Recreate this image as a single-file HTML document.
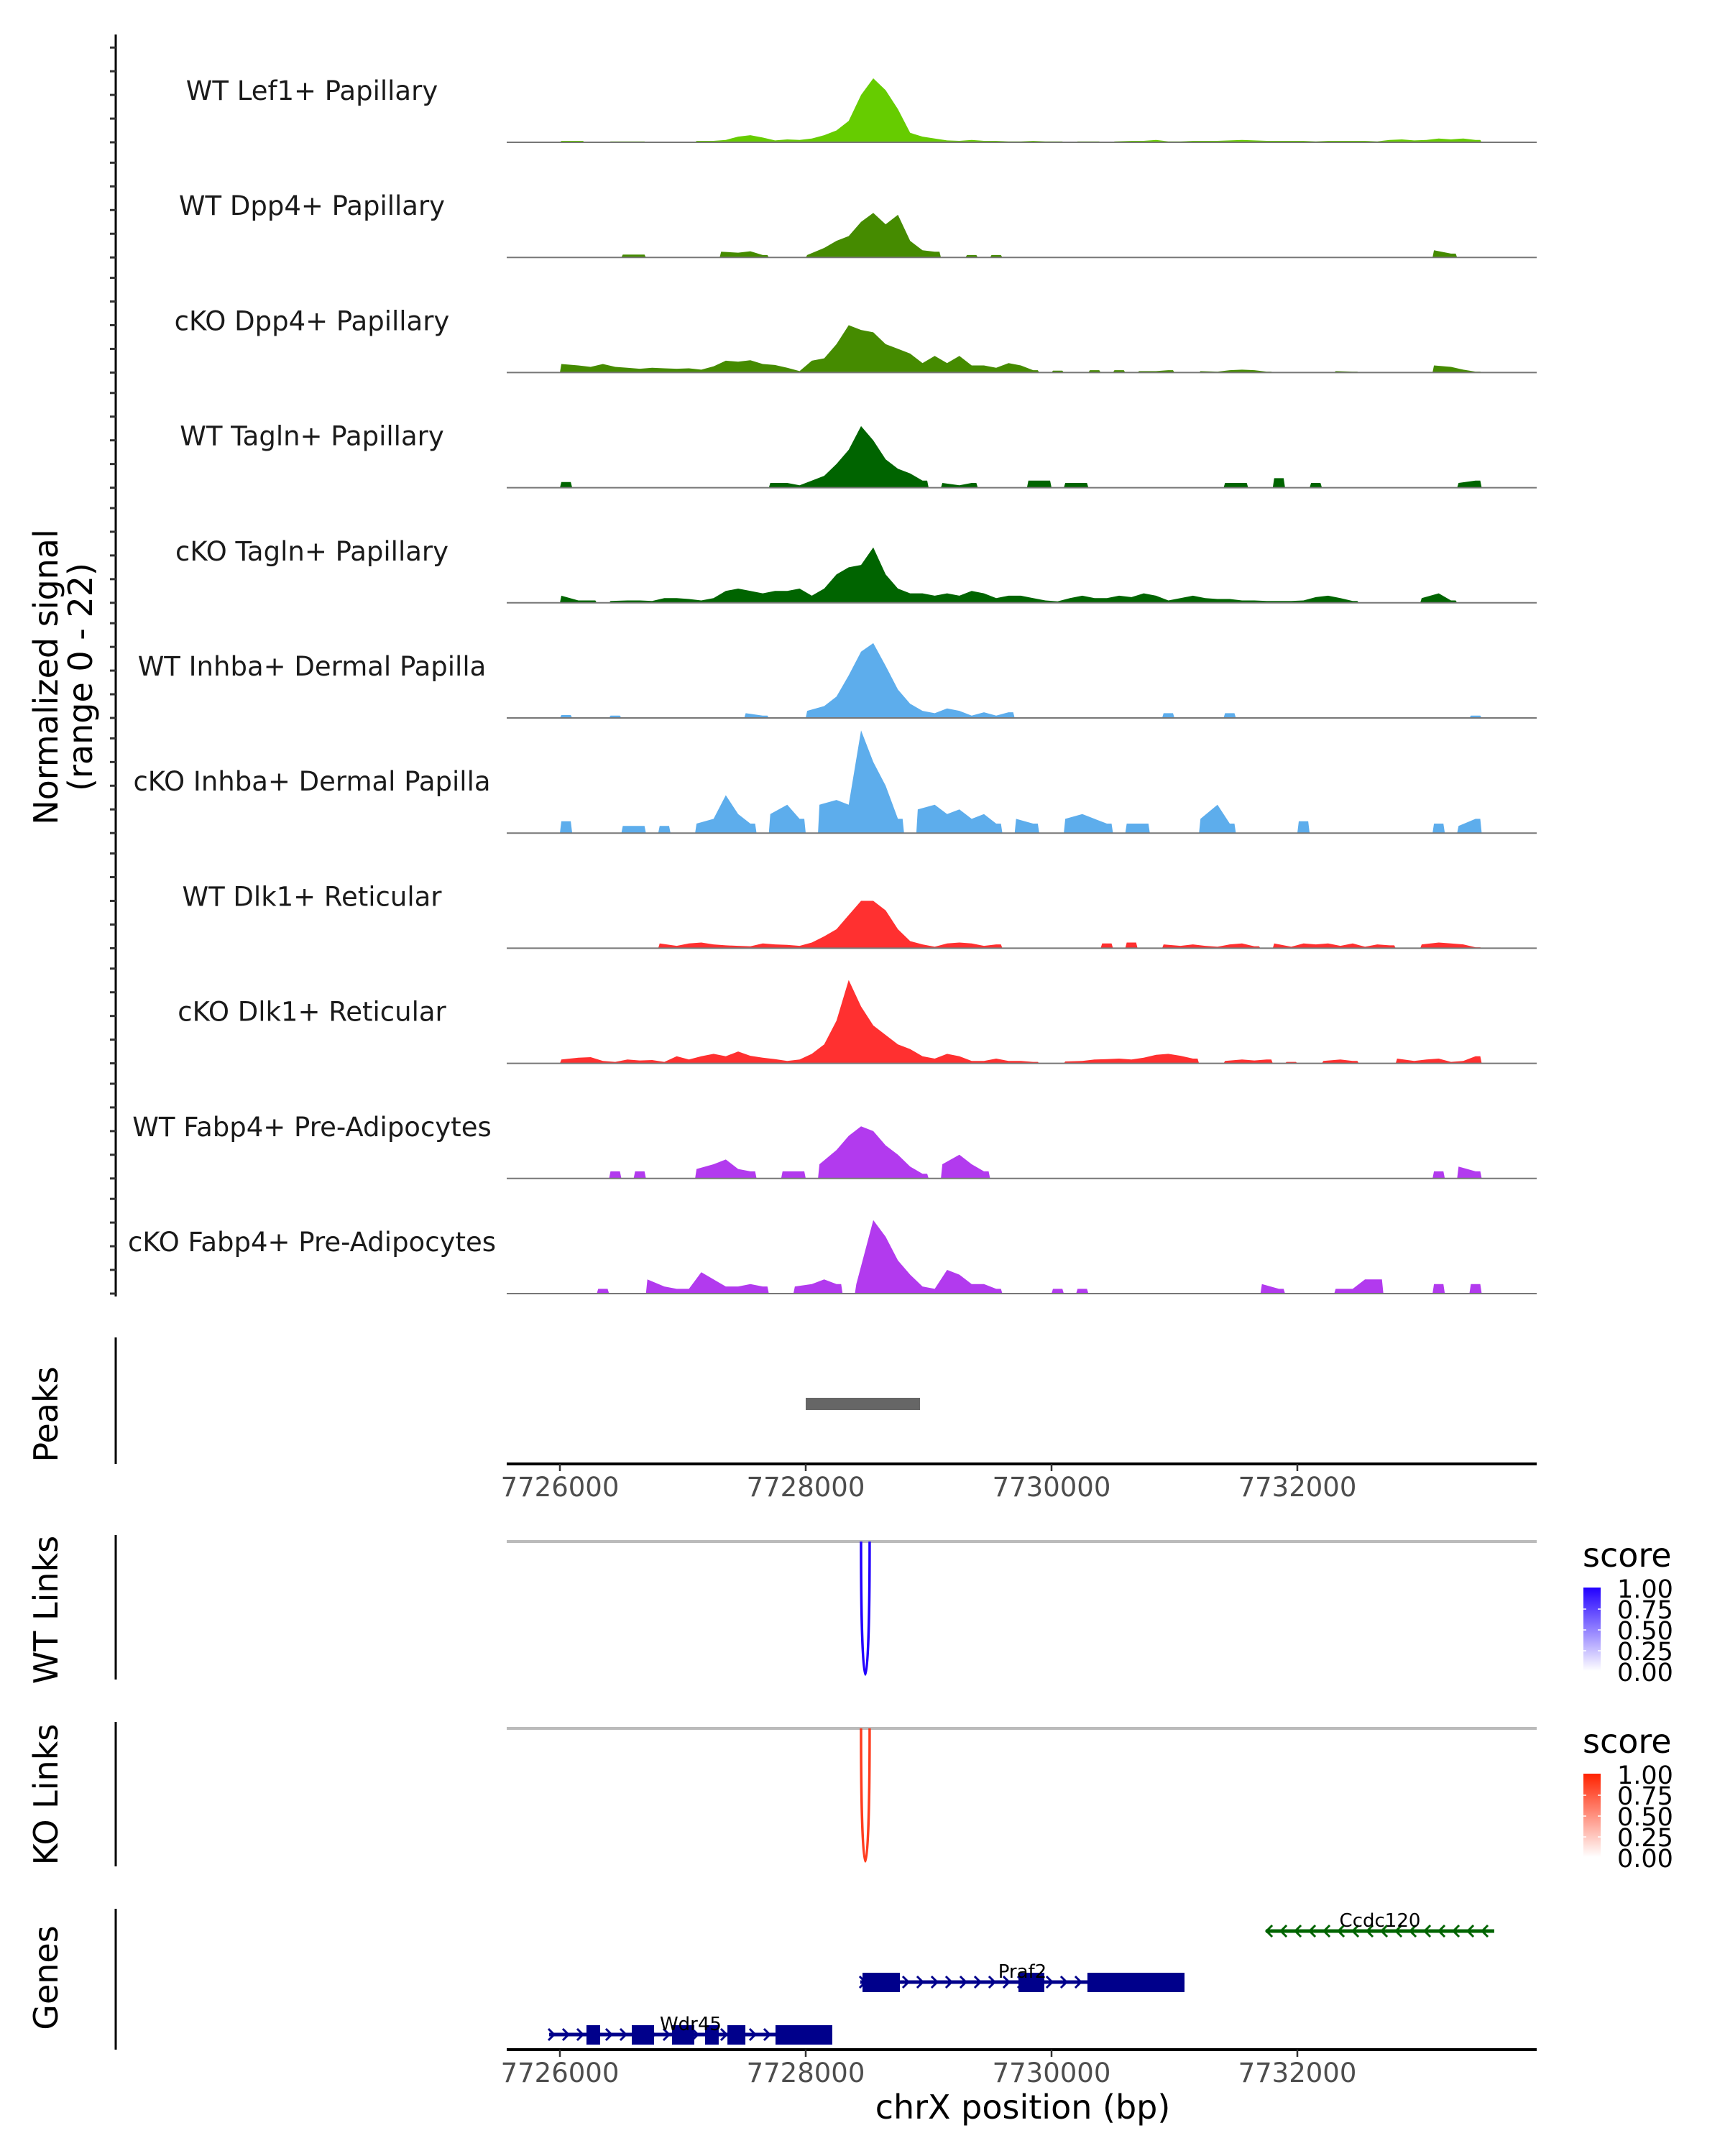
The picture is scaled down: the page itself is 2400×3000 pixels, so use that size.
<!DOCTYPE html>
<html><head><meta charset="utf-8"><style>
html,body{margin:0;padding:0;background:#fff;}
svg{display:block;font-family:"DejaVu Sans","Liberation Sans",sans-serif;}
</style></head><body>
<svg id="chart" width="2400" height="3000" viewBox="0 0 2400 3000" xmlns="http://www.w3.org/2000/svg"></svg>
<script>
const trackNames = ["WT Lef1+ Papillary","WT Dpp4+ Papillary","cKO Dpp4+ Papillary","WT Tagln+ Papillary","cKO Tagln+ Papillary","WT Inhba+ Dermal Papilla","cKO Inhba+ Dermal Papilla","WT Dlk1+ Reticular","cKO Dlk1+ Reticular","WT Fabp4+ Pre-Adipocytes","cKO Fabp4+ Pre-Adipocytes"];
const trackColors = ["#66cc00","#458b00","#458b00","#006400","#006400","#5dadec","#5dadec","#ff3030","#ff3030","#b23aee","#b23aee"];
const binStart = 7726000;
const binSize = 100;
const lef1WT = [0.3,0.3,0,0,0.2,0.2,0.2,0,0,0, 0,0.3,0.3,0.5,1.2,1.5,1.0,0.4,0.6,0.5, 0.8,1.5,2.5,4.5,10,13.5,11,7,2,1.2, 0.8,0.4,0.3,0.5,0.3,0.3,0.2,0.2,0.3,0.2, 0.2,0,0.2,0.2,0,0.2,0.3,0.3,0.5,0.2, 0.2,0.3,0.3,0.3,0.4,0.5,0.4,0.3,0.3,0.3, 0.3,0.2,0.3,0.3,0.3,0.3,0.2,0.5,0.6,0.4, 0.5,0.8,0.6,0.8,0.5];
const dpp4WT = [0,0,0,0,0,0.6,0.6,0,0,0, 0,0,0,1.2,1.0,1.3,0.5,0,0,0, 0.5,2,3.5,4.5,7.5,9.4,7,9,3.5,1.5, 1.2,0,0,0.5,0,0.5,0,0,0,0, 0,0,0,0,0,0,0,0,0,0, 0,0,0,0,0,0,0,0,0,0, 0,0,0,0,0,0,0,0,0,0, 0,1.5,0.8,0,0];
const dpp4KO = [1.8,1.5,1.2,1.8,1.2,1,0.8,1.0,0.9,0.8, 0.9,0.6,1.3,2.5,2.3,2.6,1.8,1.6,1,0.3, 2.5,3,6,10,9,8.5,6,5,4,2, 3.5,2,3.5,1.5,1.5,1,2,1.5,0.5,0, 0.4,0,0,0.5,0,0.5,0,0.3,0.3,0.5, 0,0,0.3,0.2,0.5,0.6,0.5,0.2,0,0, 0,0,0,0.3,0.2,0,0,0,0,0, 0,1.5,1.2,0.6,0.2];
const taglnWT = [1.2,0,0,0,0,0,0,0,0,0, 0,0,0,0,0,0,0,1,1,0.5, 1.5,2.5,5,8,13,10,6,4,3,1.5, 0,1,0.5,1,0,0,0,0,1.5,1.5, 0,1,1,0,0,0,0,0,0,0, 0,0,0,0,1,1,0,0,2,0, 0,1,0,0,0,0,0,0,0,0, 0,0,0,1,1.5];
const taglnKO = [1.5,0.5,0.5,0,0.4,0.5,0.5,0.4,1,1, 0.8,0.5,1,2.5,3,2.5,2,2.5,2.5,3, 1.5,3,6,7.5,8,11.7,6,3,2,2, 1.5,2,1.5,2.5,2,1,1.5,1.5,1,0.5, 0.3,1,1.5,1,1,1.5,1.2,2,1.5,0.5, 1,1.5,1,0.8,0.8,0.5,0.5,0.4,0.4,0.4, 0.5,1.2,1.5,1,0.4,0,0,0,0,0, 1,2,0.5,0,0];
const inhbaWT = [0.6,0,0,0,0.5,0,0,0,0,0, 0,0,0,0,0,1,0.5,0,0,0, 1.5,2.5,4.5,9,14,15.8,11,6,3,1.5, 1,2,1.5,0.5,1.2,0.5,1.2,0,0,0, 0,0,0,0,0,0,0,0,0,1, 0,0,0,0,1,0,0,0,0,0, 0,0,0,0,0,0,0,0,0,0, 0,0,0,0,0.5];
const inhbaKO = [2.5,0,0,0,0,1.5,1.5,0,1.5,0, 0,2,3,8,4,2,0,4,6,3, 0,6,7,6,21.7,15,10,3,0,5, 6,4,5,3,4,2,0,3,2,0, 0,3,4,3,2,0,2,2,0,0, 0,0,3,6,2,0,0,0,0,0, 2.5,0,0,0,0,0,0,0,0,0, 0,2,0,1.5,3];
const dlk1WT = [0,0,0,0,0,0,0,0,1,0.5, 1,1.2,0.8,0.6,0.5,0.4,1,0.8,0.7,0.5, 1.2,2.5,4,7,10,10,8,4,1.5,0.8, 0.3,1,1.2,1,0.5,0.8,0,0,0,0, 0,0,0,0,1,0,1.2,0,0,0.8, 0.5,0.8,0.5,0.3,0.8,1,0.4,0,1,0.3, 1,0.8,1,0.5,1,0.3,0.8,0.6,0,0, 0.8,1.2,1,0.8,0.2];
const dlk1KO = [0.8,1.2,1.3,0.5,0.3,0.8,0.6,0.7,0.3,1.5, 0.8,1.5,2,1.5,2.5,1.6,1.2,0.9,0.5,0.8, 2,4,9,17.6,12,8,6,4,3,1.5, 1,2,1.5,0.5,0.5,1,0.5,0.5,0.3,0, 0,0.4,0.5,0.8,0.9,1,0.8,1.2,1.8,2, 1.6,1,0,0,0.5,0.8,0.6,0.8,0,0.3, 0,0,0.5,0.8,0.5,0,0,0,1,0.5, 0.8,1,0.3,0.5,1.5];
const fabp4WT = [0,0,0,0,1.5,0,1.5,0,0,0, 0,2,3,4,2,1.5,0,0,1.5,1.5, 0,3,6,9,11,10,7,5,2.5,1, 0,3,5,3,1.5,0,0,0,0,0, 0,0,0,0,0,0,0,0,0,0, 0,0,0,0,0,0,0,0,0,0, 0,0,0,0,0,0,0,0,0,0, 0,1.5,0,2.5,1.5];
const fabp4KO = [0,0,0,1,0,0,0,3,1.5,1, 1,4.5,3,1.5,1.5,2,1.5,0,0,1.5, 2,3,2,0,2,15.5,12,7,4,1.5, 1,5,4,2,2,1,0,0,0,0, 1,0,1,0,0,0,0,0,0,0, 0,0,0,0,0,0,0,2,1,0, 0,0,0,1,1,3,3,0,0,0, 0,2,0,0,2];
const trackValues = [lef1WT,dpp4WT,dpp4KO,taglnWT,taglnKO,inhbaWT,inhbaKO,dlk1WT,dlk1KO,fabp4WT,fabp4KO];
const yMax = 22;
const xTicks = [7726000,7728000,7730000,7732000];
const xTickLabels = ["7726000","7728000","7730000","7732000"];
const peakStarts = [7728000];
const peakEnds = [7728930];
const wtLinkStart = [7728450];
const wtLinkEnd = [7728520];
const wtLinkScore = [1.0];
const koLinkStart = [7728450];
const koLinkEnd = [7728520];
const koLinkScore = [0.8];
const legendTicks = ["1.00","0.75","0.50","0.25","0.00"];
const geneNames = ["Ccdc120","Praf2","Wdr45"];
const geneStarts = [7731743,7728444,7725912];
const geneEnds = [7733602,7731082,7728216];
const geneStrand = [-1,1,1];
const geneColors = ["#006400","#00008b","#00008b"];
const praf2ExonStarts = [7728462,7729731,7730292];
const praf2ExonEnds = [7728766,7729941,7731082];
const wdr45ExonStarts = [7726216,7726585,7726912,7727181,7727363,7727754];
const wdr45ExonEnds = [7726327,7726766,7727093,7727292,7727509,7728216];
const geneExonStarts = [[],praf2ExonStarts,wdr45ExonStarts];
const geneExonEnds = [[],praf2ExonEnds,wdr45ExonEnds];

const NS = "http://www.w3.org/2000/svg";
const svg = document.getElementById("chart");
const PX0 = 705, PX1 = 2138;
function xScale(bp){ return 779 + (bp - 7726000) * 0.171; }
const trackTop0 = 198, trackStep = 160.2, trackH = 145;
function yScale(v, base){ return base - v / yMax * trackH; }
function el(tag, attrs, parent){ const e = document.createElementNS(NS, tag); for (const k in attrs) e.setAttribute(k, attrs[k]); (parent||svg).appendChild(e); return e; }
function txt(s, attrs, parent){ const t = el("text", attrs, parent); t.textContent = s; return t; }

let g = el("g", {});


el("line", {x1:161,y1:48,x2:161,y2:1804,stroke:"#000","stroke-width":3}, g);
for (let t = 0; t < trackNames.length; t++) {
  const base = trackTop0 + t * trackStep;
  for (let v = 0; v <= 20; v += 5) {
    const y = yScale(v, base);
    const tk = el("line", {x1:153,y1:y,x2:161,y2:y,stroke:"#333","stroke-width":3}, g);
    
    
  }
}
let yt = txt("Normalized signal", {x:0,y:0,"font-size":46,"text-anchor":"middle",transform:"translate(80,942) rotate(-90)"});


let yt2 = txt("(range 0 - 22)", {x:0,y:0,"font-size":46,"text-anchor":"middle",transform:"translate(128,942) rotate(-90)"});



for (let t = 0; t < trackNames.length; t++) {
  const base = trackTop0 + t * trackStep;
  const tg = el("g", {});
  
  
  const vals = trackValues[t];
  let d = "";
  let open = false;
  for (let i = 0; i < vals.length; i++) {
    const xa = xScale(binStart + i * binSize), xb = xScale(binStart + (i + 1) * binSize);
    const v = vals[i];
    if (v > 0) {
      const y = yScale(v, base);
      if (!open) { d += "M" + xa.toFixed(1) + "," + base + " L" + (xa + 2).toFixed(1) + "," + y.toFixed(1) + " "; open = true; }
      else d += "L" + ((xa + xb) / 2).toFixed(1) + "," + y.toFixed(1) + " ";
      const nxt = vals[i + 1] || 0;
      if (nxt <= 0) { d += "L" + (xb - 2).toFixed(1) + "," + y.toFixed(1) + " L" + xb.toFixed(1) + "," + base + " Z "; open = false; }
    }
  }
  const area = el("path", {d:d, fill:trackColors[t]}, tg);
  
  
  const bl = el("line", {x1:PX0,y1:base,x2:PX1,y2:base,stroke:"#777","stroke-width":2}, tg);
  
  
  const lb = txt(trackNames[t], {x:434,y:base - 59,"font-size":37,"text-anchor":"middle",fill:"#1a1a1a"}, tg);
  
  
}

const pg = el("g", {});


el("line", {x1:161,y1:1861,x2:161,y2:2037,stroke:"#000","stroke-width":3}, pg);
let pt = txt("Peaks", {x:0,y:0,"font-size":46,"text-anchor":"middle",transform:"translate(80,1968) rotate(-90)"}, pg);


for (let i = 0; i < peakStarts.length; i++) {
  const r = el("rect", {x:xScale(peakStarts[i]),y:1945,width:xScale(peakEnds[i]) - xScale(peakStarts[i]),height:17,fill:"#666"}, pg);
  
  
}
function xAxis(y, name) {
  const ag = el("g", {});
  
  
  el("line", {x1:PX0,y1:y,x2:PX1,y2:y,stroke:"#000","stroke-width":4}, ag);
  for (let i = 0; i < xTicks.length; i++) {
    const x = xScale(xTicks[i]);
    el("line", {x1:x,y1:y,x2:x,y2:y + 10,stroke:"#333","stroke-width":2.5}, ag);
    const tl = txt(xTickLabels[i], {x:x,y:y + 45,"font-size":37,"text-anchor":"middle",fill:"#4d4d4d"}, ag);
    
    
  }
}
xAxis(2037, "peaks-x-axis");

function linkPanel(top, bottom, title, titleY, starts, ends, scores, hue, legTop, name) {
  const lg = el("g", {});
  
  
  el("line", {x1:161,y1:top - 9,x2:161,y2:bottom + 7,stroke:"#000","stroke-width":3}, lg);
  const tt = txt(title, {x:0,y:0,"font-size":46,"text-anchor":"middle",transform:"translate(80," + titleY + ") rotate(-90)"}, lg);
  
  
  el("line", {x1:PX0,y1:top,x2:PX1,y2:top,stroke:"#bbb","stroke-width":4}, lg);
  for (let i = 0; i < starts.length; i++) {
    const x1 = xScale(starts[i]), x2 = xScale(ends[i]);
    const cy = top + (bottom - top) / 0.75;
    const p = el("path", {d:"M" + x1 + "," + top + " C" + x1 + "," + cy + " " + x2 + "," + cy + " " + x2 + "," + top, fill:"none", stroke:hue, "stroke-width":3.5, "stroke-opacity":0.4 + 0.6 * scores[i]}, lg);
    
    
  }
  const gid = "grad" + name;
  const defs = el("defs", {}, lg);
  const grad = el("linearGradient", {id:gid,x1:0,y1:1,x2:0,y2:0}, defs);
  el("stop", {offset:0,"stop-color":"#fff"}, grad);
  el("stop", {offset:1,"stop-color":hue}, grad);
  const lt = txt("score", {x:2202,y:legTop,"font-size":46,fill:"#000"}, lg);
  
  
  const cb = el("rect", {x:2203,y:legTop + 29,width:24,height:116,fill:"url(#" + gid + ")"}, lg);
  
  
  for (let k = 0; k < legendTicks.length; k++) {
    const yy = legTop + 43 + k * 29;
    const lbl = txt(legendTicks[k], {x:2250,y:yy,"font-size":35,fill:"#000"}, lg);
    
    
    if (k > 0 && k < 4) { el("line", {x1:2203,y1:yy - 13,x2:2207,y2:yy - 13,stroke:"#fff","stroke-width":1.5}, lg); el("line", {x1:2223,y1:yy - 13,x2:2227,y2:yy - 13,stroke:"#fff","stroke-width":1.5}, lg); }
  }
}
linkPanel(2145, 2330, "WT Links", 2240, wtLinkStart, wtLinkEnd, wtLinkScore, "#2200ff", 2180, "wt-links-panel");
linkPanel(2405, 2590, "KO Links", 2497, koLinkStart, koLinkEnd, koLinkScore, "#ff2200", 2439, "ko-links-panel");

const gg = el("g", {});


el("line", {x1:161,y1:2656,x2:161,y2:2852,stroke:"#000","stroke-width":3}, gg);
let gt = txt("Genes", {x:0,y:0,"font-size":46,"text-anchor":"middle",transform:"translate(80,2752) rotate(-90)"}, gg);


const geneY = [2687, 2758, 2831];
for (let i = 0; i < geneNames.length; i++) {
  const sub = el("g", {}, gg);
  
  
  const y = geneY[i], c = geneColors[i];
  const xa = xScale(geneStarts[i]), xb = xScale(geneEnds[i]);
  el("line", {x1:xa,y1:y,x2:xb,y2:y,stroke:c,"stroke-width":5}, sub);
  for (let x = xa + 4; x <= xb; x += 20) {
    const s = geneStrand[i];
    el("polyline", {points:(x - 5 * s) + "," + (y - 8) + " " + (x + 3 * s) + "," + y + " " + (x - 5 * s) + "," + (y + 8), fill:"none", stroke:c, "stroke-width":3}, sub);
  }
  const es = geneExonStarts[i], ee = geneExonEnds[i];
  for (let k = 0; k < es.length; k++) {
    const r = el("rect", {x:xScale(es[k]),y:y - 13,width:xScale(ee[k]) - xScale(es[k]),height:27,fill:c}, sub);
    
    
  }
  const lbl = txt(geneNames[i], {x:(xa + xb) / 2,y:y - 6,"font-size":26,"text-anchor":"middle",fill:"#000"}, sub);
  
  
}
xAxis(2852, "genes-x-axis");
let xt = txt("chrX position (bp)", {x:1423,y:2948,"font-size":46,"text-anchor":"middle",fill:"#000"});


</script>
</body></html>
